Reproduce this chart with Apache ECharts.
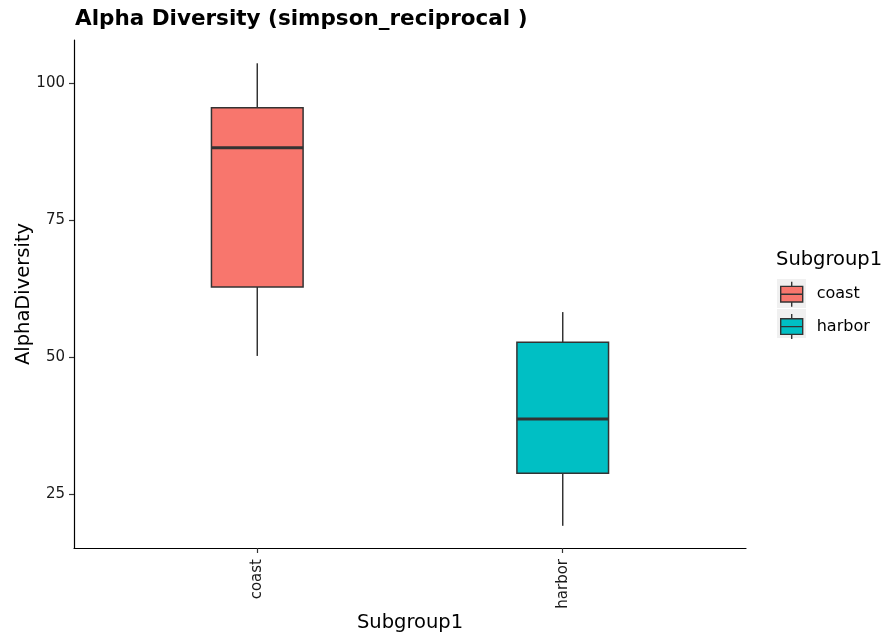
<!DOCTYPE html>
<html><head><meta charset="utf-8">
<script src="https://cdn.jsdelivr.net/npm/echarts@6/dist/echarts.min.js"></script>
<style>html,body{margin:0;padding:0;background:#fff}#c{width:885px;height:634px}</style>
</head><body><div id="c"></div>
<script>
var categories = ['coast', 'harbor'];
var colors = ['#F8766D', '#00BFC4'];
// [min, Q1, median, Q3, max]
var coastStats = [50.2, 62.8, 88.2, 95.5, 103.6];
var harborStats = [19.2, 28.8, 38.7, 52.7, 58.2];
var yTicks = [25, 50, 75, 100];
var statsList = [coastStats, harborStats];
var FONT = 'DejaVu Sans';
var boxW = 0.3;

function renderBox(params, api) {
  var x = api.value(0);
  var mn = api.coord([x, api.value(1)]);
  var q1 = api.coord([x, api.value(2)]);
  var md = api.coord([x, api.value(3)]);
  var q3 = api.coord([x, api.value(4)]);
  var mx = api.coord([x, api.value(5)]);
  var l = api.coord([x - boxW / 2, api.value(3)])[0];
  var r = api.coord([x + boxW / 2, api.value(3)])[0];
  var cx = mn[0];
  var fill = colors[params.seriesIndex];
  var ls = {stroke: '#333333', lineWidth: 1.5};
  return {type: 'group', children: [
    {type: 'line', shape: {x1: cx, y1: q3[1], x2: cx, y2: mx[1]}, style: ls},
    {type: 'line', shape: {x1: cx, y1: q1[1], x2: cx, y2: mn[1]}, style: ls},
    {type: 'rect', shape: {x: l, y: q3[1], width: r - l, height: q1[1] - q3[1]}, style: {fill: fill, stroke: '#333333', lineWidth: 1.5}},
    {type: 'line', shape: {x1: l, y1: md[1], x2: r, y2: md[1]}, style: {stroke: '#333333', lineWidth: 3}}
  ]};
}

var series = categories.map(function (c, i) {
  return {
    name: c, type: 'custom', renderItem: renderBox,
    itemStyle: {color: colors[i]},
    encode: {x: 0, y: [1, 2, 3, 4, 5]},
    data: [[i + 1].concat(statsList[i])]
  };
});

var chart = echarts.init(document.getElementById('c'), null, {renderer: 'canvas'});
chart.setOption({
  animation: false,
  backgroundColor: '#ffffff',
  title: [
    {text: 'Alpha Diversity (simpson_reciprocal )', left: 75, top: 8, padding: 0,
     textStyle: {fontFamily: FONT, fontSize: 21.5, fontWeight: 'bold', color: '#000'}},
    {text: 'Subgroup1', left: 776, top: 250, padding: 0,
     textStyle: {fontFamily: FONT, fontSize: 19.5, fontWeight: 'normal', color: '#000'}}
  ],
  legend: {
    orient: 'vertical', left: 780, top: 281, itemGap: 6, padding: 0,
    itemWidth: 22, itemHeight: 25, symbolKeepAspect: false,
    icon: 'path://M11,0V4.5M11,19.5V24M0,4.5H22V19.5H0ZM0,12H22',
    itemStyle: {borderColor: '#333333', borderWidth: 1.4},
    textStyle: {fontFamily: FONT, fontSize: 16, color: '#000', padding: [0, 0, 0, 9]},
    data: categories
  },
  graphic: [
    {type: 'rect', left: 777, top: 279, z: -1, shape: {width: 29, height: 29}, style: {fill: '#f0f0f0'}},
    {type: 'rect', left: 777, top: 309, z: -1, shape: {width: 29, height: 29}, style: {fill: '#f0f0f0'}}
  ],
  grid: {left: 74, right: 139, top: 40, bottom: 86, containLabel: false, outerBoundsMode: 'none'},
  xAxis: {
    type: 'value', min: 0.4, max: 2.6,
    name: 'Subgroup1', nameLocation: 'middle', nameGap: 65, nameMoveOverlap: false,
    nameTextStyle: {fontFamily: FONT, fontSize: 19.5, color: '#000'},
    axisLine: {show: true, lineStyle: {color: '#000', width: 1.2}},
    axisTick: {show: true, length: 5, lineStyle: {color: '#333', width: 1.2}, customValues: [1, 2]},
    axisLabel: {show: true, rotate: 90, fontFamily: FONT, fontSize: 15, color: '#1a1a1a', margin: 11,
      customValues: [1, 2], formatter: function (v) { return categories[Math.round(v) - 1] || ''; }},
    splitLine: {show: false}
  },
  yAxis: {
    type: 'value', min: 15.15, max: 107.85,
    name: 'AlphaDiversity', nameLocation: 'middle', nameGap: 40, nameRotate: 90, nameMoveOverlap: false,
    nameTextStyle: {fontFamily: FONT, fontSize: 19.5, color: '#000'},
    axisLine: {show: true, lineStyle: {color: '#000', width: 1.2}},
    axisTick: {show: true, length: 5, lineStyle: {color: '#333', width: 1.2}, customValues: yTicks},
    axisLabel: {show: true, fontFamily: FONT, fontSize: 15, color: '#1a1a1a', margin: 9, customValues: yTicks},
    splitLine: {show: false}
  },
  series: series
});
</script></body></html>
